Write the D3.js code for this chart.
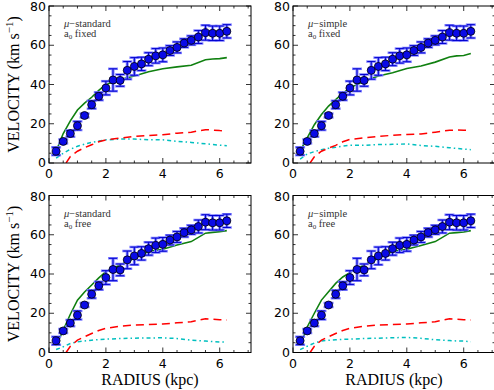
<!DOCTYPE html>
<html>
<head>
<meta charset="utf-8">
<script src="https://cdn.jsdelivr.net/npm/d3@7"></script>
<style>
  body { margin: 0; background: #fff; }
  svg { display: block; }
  .serif { font-family: "Liberation Serif", "DejaVu Serif", serif; }
</style>
</head>
<body>
<script>
// observed rotation curve
var radius = [0.25, 0.5, 0.75, 1, 1.25, 1.5, 1.75, 2, 2.25, 2.5, 2.75, 3, 3.25, 3.5, 3.75, 4, 4.25, 4.5, 4.75, 5, 5.25, 5.5, 5.75, 6, 6.25]
var vObs = [6, 11, 15, 19, 24.2, 29.7, 34, 38.2, 42.3, 42.1, 47.2, 49.2, 50.5, 52.9, 54.6, 55.1, 57.3, 58.9, 61.1, 62.5, 64.2, 66.4, 66.1, 66.1, 67.1]
var vErr = [2, 1, 1.6, 2.2, 1, 2, 2, 3.5, 5.7, 3, 4.5, 4.5, 3.4, 3.3, 3.7, 3.5, 2.5, 2.8, 2.2, 2.3, 3.3, 3.8, 3.7, 3.7, 3.4]

// model curves (radii where they were read)
var modelR = [0.25, 0.5, 0.75, 1, 1.25, 1.5, 1.75, 2, 2.5, 3, 3.5, 4, 4.5, 5, 5.5, 5.75, 6, 6.25]
var gasR = [0.6, 0.75, 1, 1.25, 1.5, 1.75, 2, 2.5, 3, 3.5, 4, 4.5, 5, 5.5, 5.75, 6, 6.25]

var totStdFixed = [6, 15, 21.5, 27, 30.5, 33.5, 37, 40, 42.6, 44.3, 46.5, 48, 49, 49.8, 52.6, 53, 53.2, 53.7]
var gasStdFixed = [0, 3.3, 6, 7.8, 9.3, 10.8, 11.8, 12.7, 13.5, 14, 14.4, 15.2, 15.7, 17, 16.8, 16.5, 16.4]
var starStdFixed = [2.5, 5, 7, 8.5, 9.6, 10.5, 11.2, 11.8, 12.2, 12.2, 11.8, 11.8, 11, 10.5, 9.8, 9.4, 9.1, 8.8]

var totSimFixed = [6, 12.8, 19.5, 24.7, 29, 32.3, 35.5, 38.3, 41.7, 44.3, 46, 48.2, 49.4, 51.4, 54, 54.6, 54.8, 55.8]
var gasSimFixed = [0, 3.2, 6, 7.6, 9, 10.8, 12, 12.8, 13.6, 14.1, 14.5, 14.8, 15.7, 16.7, 16.8, 16.7, 16.6]
var starSimFixed = [2, 4.6, 5.8, 6.8, 7.5, 8, 8.6, 9, 9, 9.4, 9.5, 9.7, 8.9, 8.5, 7.8, 7.4, 7.1, 6.8]

var totStdFree = [3.4, 11.4, 19.5, 26.7, 30.8, 34.4, 38, 41.2, 44.6, 48, 51.4, 52.6, 54.8, 56.5, 60.8, 61.2, 61.6, 62.1]
var gasStdFree = [0, 3.2, 6.3, 8, 9.7, 11.2, 12.3, 13.4, 14, 14.3, 14.5, 15.1, 15.7, 17.2, 17, 16.7, 16.6]
var starStdFree = [1.5, 2.9, 4.6, 5.4, 5.9, 6.3, 6.6, 6.8, 7.1, 7.3, 7.4, 7.5, 7.1, 6.3, 5.8, 5.6, 5.4, 5.3]

var totSimFree = [3.4, 13, 20, 26.7, 31, 35.2, 38.5, 40.7, 44.6, 48, 51.4, 52.6, 54.5, 56.5, 60.8, 61.1, 61.4, 62.1]
var gasSimFree = [0, 3.2, 6.3, 8, 9.7, 11.2, 12.3, 13.4, 14, 14.3, 14.5, 15.1, 15.7, 17.2, 17, 16.7, 16.6]
var starSimFree = [1.5, 3.2, 4.8, 5.9, 6.2, 6.5, 6.7, 6.8, 7.1, 7.3, 7.5, 7.7, 7.2, 6.5, 6.1, 5.9, 5.8, 5.5]

var xTicks = [0, 2, 4, 6]
var yTicks = [0, 20, 40, 60, 80]

var panels = [
	{ x0: 49, y0: 6, tot: totStdFixed, gas: gasStdFixed, star: starStdFixed, mu: "standard", a0: "fixed", ylab: true, xlab: false },
	{ x0: 293, y0: 6, tot: totSimFixed, gas: gasSimFixed, star: starSimFixed, mu: "simple", a0: "fixed", ylab: false, xlab: false },
	{ x0: 49, y0: 195.5, tot: totStdFree, gas: gasStdFree, star: starStdFree, mu: "standard", a0: "free", ylab: true, xlab: true },
	{ x0: 293, y0: 195.5, tot: totSimFree, gas: gasSimFree, star: starSimFree, mu: "simple", a0: "free", ylab: false, xlab: true }
]

var W = 202, H = 157

var svg = d3.select("body").append("svg")
	.attr("width", 494)
	.attr("height", 390)

var x = d3.scaleLinear().domain([0, 7.1]).range([0, W])
var y = d3.scaleLinear().domain([0, 80]).range([H, 0])

panels.forEach(function(p, k) {
	var g = svg.append("g").attr("transform", "translate(" + p.x0 + "," + p.y0 + ")")

	g.append("clipPath").attr("id", "clip" + k)
		.append("rect").attr("width", W).attr("height", H)

	var plot = g.append("g").attr("clip-path", "url(#clip" + k + ")")

	// ticks on all four sides, pointing in
	var minorX = d3.range(0, 7.01, 0.5)
	var minorY = d3.range(0, 80.1, 5)
	var tk = g.append("g").attr("stroke", "#000").attr("stroke-width", 0.8)
	minorX.forEach(function(v) {
		var len = xTicks.indexOf(v) >= 0 ? 5 : 2.5
		tk.append("line").attr("x1", x(v)).attr("x2", x(v)).attr("y1", H).attr("y2", H - len)
		tk.append("line").attr("x1", x(v)).attr("x2", x(v)).attr("y1", 0).attr("y2", len)
	})
	minorY.forEach(function(v) {
		var len = yTicks.indexOf(v) >= 0 ? 5 : 2.5
		tk.append("line").attr("x1", 0).attr("x2", len).attr("y1", y(v)).attr("y2", y(v))
		tk.append("line").attr("x1", W).attr("x2", W - len).attr("y1", y(v)).attr("y2", y(v))
	})

	// model lines
	var line = d3.line()
		.x(function(d) { return x(d[0]) })
		.y(function(d) { return y(d[1]) })

	plot.append("path")
		.datum(d3.zip(modelR, p.star))
		.attr("d", line)
		.attr("fill", "none")
		.attr("stroke", "#00bfbf")
		.attr("stroke-width", 1.5)
		.attr("stroke-dasharray", "4,3,1.5,3")

	plot.append("path")
		.datum(d3.zip(gasR, p.gas))
		.attr("d", line)
		.attr("fill", "none")
		.attr("stroke", "#ff0000")
		.attr("stroke-width", 1.5)
		.attr("stroke-dasharray", "8,5")

	plot.append("path")
		.datum(d3.zip(modelR, p.tot))
		.attr("d", line)
		.attr("fill", "none")
		.attr("stroke", "#108010")
		.attr("stroke-width", 1.6)

	// error bars: light wide layer, then dark thin layer
	var pts = d3.zip(radius, vObs, vErr)
	var layers = [
		{ c: "#8080ff", w: 3, cap: 5 },
		{ c: "#0000d0", w: 1, cap: 4 }
	]
	layers.forEach(function(L) {
		var eb = plot.append("g").attr("stroke", L.c).attr("stroke-width", L.w)
		eb.selectAll("line.v").data(pts).enter().append("line")
			.attr("x1", function(d) { return x(d[0]) })
			.attr("x2", function(d) { return x(d[0]) })
			.attr("y1", function(d) { return y(d[1] - d[2]) })
			.attr("y2", function(d) { return y(d[1] + d[2]) })
		;[-1, 1].forEach(function(s) {
			eb.selectAll(null).data(pts).enter().append("line")
				.attr("x1", function(d) { return x(d[0]) - L.cap })
				.attr("x2", function(d) { return x(d[0]) + L.cap })
				.attr("y1", function(d) { return y(d[1] + s * d[2]) })
				.attr("y2", function(d) { return y(d[1] + s * d[2]) })
				.attr("stroke-width", L.w === 3 ? 2.5 : 1)
		})
	})

	plot.selectAll("circle").data(pts).enter().append("circle")
		.attr("cx", function(d) { return x(d[0]) })
		.attr("cy", function(d) { return y(d[1]) })
		.attr("r", 4)
		.attr("fill", "#0a0ae6")
		.attr("stroke", "#000")
		.attr("stroke-width", 0.8)

	// frame
	g.append("rect").attr("width", W).attr("height", H)
		.attr("fill", "none").attr("stroke", "#000").attr("stroke-width", 1)

	// tick labels
	g.selectAll("text.xt").data(xTicks).enter().append("text")
		.attr("x", function(d) { return x(d) })
		.attr("y", H + 15)
		.attr("text-anchor", "middle")
		.attr("font-family", "DejaVu Sans")
		.attr("font-size", 12.5)
		.text(function(d) { return d })
	g.selectAll("text.yt").data(yTicks).enter().append("text")
		.attr("x", -3)
		.attr("y", function(d) { return y(d) + (d === 80 ? 5 : 4) })
		.attr("text-anchor", "end")
		.attr("font-family", "DejaVu Sans")
		.attr("font-size", 12.5)
		.text(function(d) { return d })

	// annotation
	var ann = g.append("text")
		.attr("class", "serif")
		.attr("font-size", 10.5)
		.attr("fill", "#333")
	ann.append("tspan").attr("x", 15).attr("y", 21)
		.append("tspan").attr("font-style", "italic").text("μ")
	ann.append("tspan").text("−" + p.mu)
	var a2 = g.append("text")
		.attr("class", "serif")
		.attr("font-size", 10.5)
		.attr("fill", "#333")
		.attr("x", 15).attr("y", 31)
	a2.append("tspan").text("a")
	a2.append("tspan").attr("font-size", 7).attr("dy", 2).text("0")
	a2.append("tspan").attr("dy", -2).text(" " + p.a0)

	if (p.ylab) {
		var yl = g.append("text")
			.attr("class", "serif")
			.attr("transform", "translate(-30," + (H / 2) + ") rotate(-90)")
			.attr("text-anchor", "middle")
			.attr("font-size", 16)
		yl.append("tspan").text("VELOCITY (km s")
		yl.append("tspan").attr("font-size", 11).attr("dy", -6).text("−1")
		yl.append("tspan").attr("dy", 6).text(")")
	}
	if (p.xlab) {
		g.append("text")
			.attr("class", "serif")
			.attr("x", W / 2)
			.attr("y", H + 32)
			.attr("text-anchor", "middle")
			.attr("font-size", 16)
			.text("RADIUS (kpc)")
	}
})
</script>
</body>
</html>
